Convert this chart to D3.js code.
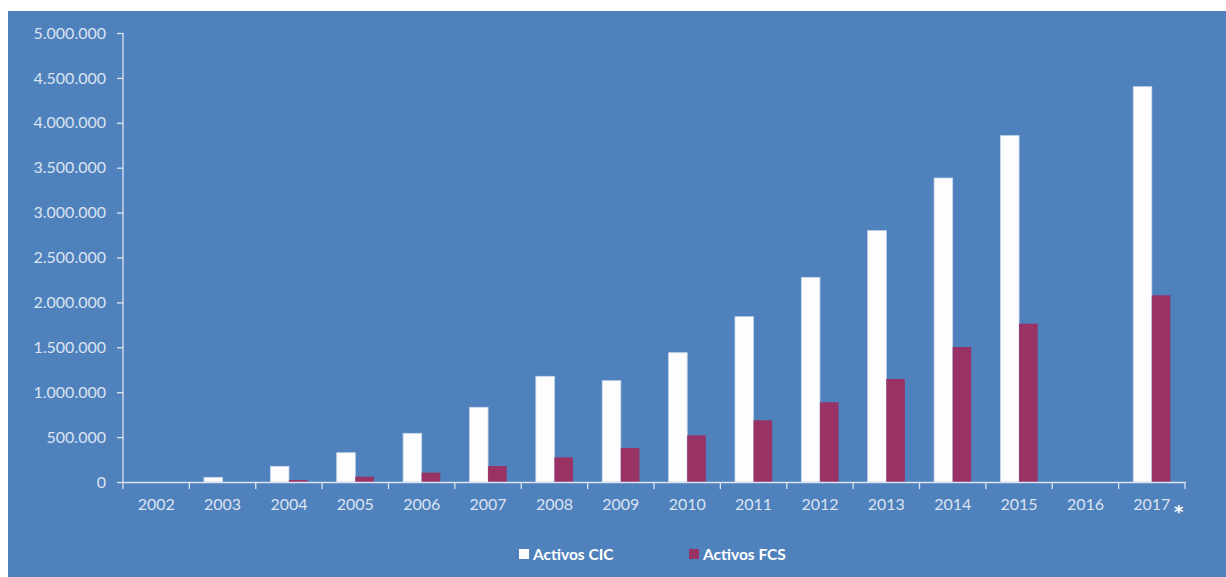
<!DOCTYPE html>
<html>
<head>
<meta charset="utf-8">
<script src="https://cdn.jsdelivr.net/npm/d3@7"></script>
<style>
  body { margin: 0; background: #fff; }
  svg text { font-family: Lato, 'Open Sans', sans-serif; }
</style>
</head>
<body>
<div id="viz"></div>
<script>
// data
const years = ['2002', '2003', '2004', '2005', '2006', '2007', '2008', '2009',
  '2010', '2011', '2012', '2013', '2014', '2015', '2016', '2017'];
const activosCIC = [0, 52000, 175000, 326000, 542000, 832000, 1177000, 1128000,
  1440000, 1841000, 2279000, 2799000, 3385000, 3857000, 0, 4402000];
const activosFCS = [0, 0, 22000, 59000, 104000, 178000, 275000, 379000,
  520000, 687000, 888000, 1147000, 1503000, 1763000, 0, 2079000];
const series = ['Activos CIC', 'Activos FCS'];
const yTicks = [0, 500000, 1000000, 1500000, 2000000, 2500000, 3000000, 3500000, 4000000, 4500000, 5000000];

// colors
let bg = '#4f81bd';
let white = '#fdfdfd';
let wine = '#993366';
let axisCol = '#dbe4f0';

const width = 1226;
const height = 577;

let svg = d3
  .select('#viz')
  .append('svg')
  .attr('width', width)
  .attr('height', height);

svg.append('rect')
  .attr('x', 8)
  .attr('y', 11)
  .attr('width', width - 8)
  .attr('height', height - 11)
  .attr('fill', bg);

let x0 = d3.scaleBand().domain(years).range([123, 1185]);
let x1 = d3.scaleBand().domain(series)
  .range([x0.bandwidth() * 0.22, x0.bandwidth() * 0.78]);
let y = d3.scaleLinear().domain([0, 5000000]).range([482, 33]);
let color = d3.scaleOrdinal().domain(series).range([white, wine]);

let fmt = d3.formatLocale({ decimal: ',', thousands: '.', grouping: [3], currency: ['', ''] }).format(',d');

// y axis
let yAxis = svg.append('g')
  .attr('transform', 'translate(123,0)')
  .call(d3.axisLeft(y).tickValues(yTicks).tickFormat(fmt).tickSize(6).tickPadding(11));
yAxis.select('.domain').attr('stroke', axisCol).attr('stroke-width', 1.3).attr('d', 'M0,33V482');
yAxis.selectAll('.tick line').attr('stroke', axisCol).attr('stroke-width', 1.3);
yAxis.selectAll('.tick text')
  .attr('fill', axisCol)
  .attr('font-size', '16px');

// bars
let rows = years.map((yr, i) => ({ year: yr, vals: [activosCIC[i], activosFCS[i]] }));

let groups = svg.append('g')
  .selectAll('g')
  .data(rows)
  .enter()
  .append('g')
  .attr('transform', d => 'translate(' + x0(d.year) + ',0)');

groups.selectAll('rect')
  .data(d => d.vals.map((v, j) => ({ key: series[j], value: v })))
  .enter()
  .append('rect')
  .filter(d => d.value > 0)
  .attr('x', d => x1(d.key))
  .attr('width', x1.bandwidth())
  .attr('y', d => y(d.value))
  .attr('height', d => y(0) - y(d.value))
  .attr('fill', d => color(d.key))
  .attr('stroke', d => d.key == 'Activos CIC' ? '#c8d6ea' : 'none')
  .attr('stroke-width', 0.8);

// x axis
let xAxis = svg.append('g')
  .attr('transform', 'translate(0,482)')
  .call(d3.axisBottom(x0).tickSize(0).tickPadding(17));
xAxis.select('.domain').attr('stroke', axisCol).attr('stroke-width', 1.3);
xAxis.selectAll('.tick text')
  .attr('fill', axisCol)
  .attr('font-size', '16px');

// boundary ticks between categories
svg.append('g')
  .selectAll('line')
  .data(years.concat(['end']))
  .enter()
  .append('line')
  .attr('x1', d => d == 'end' ? x0.range()[1] : x0(d))
  .attr('x2', d => d == 'end' ? x0.range()[1] : x0(d))
  .attr('y1', 482)
  .attr('y2', 489)
  .attr('stroke', axisCol)
  .attr('stroke-width', 1.3);

// star next to 2017
svg.append('text')
  .attr('x', x0('2017') + x0.bandwidth() / 2 + 27)
  .attr('y', 518)
  .attr('text-anchor', 'middle')
  .attr('fill', '#ffffff')
  .attr('font-size', '18px')
  .attr('font-weight', 'bold')
  .style('font-family', 'DejaVu Sans')
  .text('*');

// legend
let legend = svg.append('g')
  .selectAll('g')
  .data(series)
  .enter()
  .append('g')
  .attr('transform', (d, i) => 'translate(' + (519 + i * 170) + ',549)');

legend.append('rect')
  .attr('width', 10)
  .attr('height', 10)
  .attr('fill', d => color(d));

legend.append('text')
  .attr('x', 14)
  .attr('y', 11)
  .attr('fill', '#ffffff')
  .attr('font-size', '15.5px')
  .attr('font-weight', 'bold')
  .text(d => d);
</script>
</body>
</html>
